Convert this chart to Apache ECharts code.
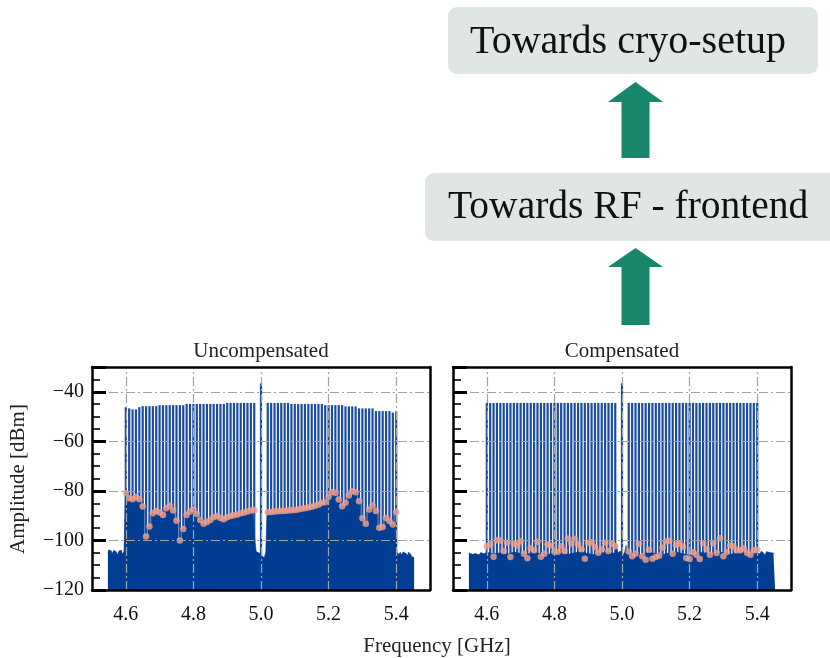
<!DOCTYPE html>
<html>
<head>
<meta charset="utf-8">
<script src="https://cdn.jsdelivr.net/npm/echarts@6/dist/echarts.min.js"></script>
<style>
html, body { margin: 0; padding: 0; background: #fff; }
#chart { width: 830px; height: 658px; }
</style>
</head>
<body>
<div id="chart"></div>
<script>
// tick positions
var xTicks = [4.6, 4.8, 5.0, 5.2, 5.4];
var yTicks = [-40, -60, -80, -100];

// comb tones (GHz)
var toneFreqsLow = [4.60, 4.61, 4.62, 4.63, 4.64, 4.65, 4.66, 4.67, 4.68, 4.69,
    4.70, 4.71, 4.72, 4.73, 4.74, 4.75, 4.76, 4.77, 4.78, 4.79,
    4.80, 4.81, 4.82, 4.83, 4.84, 4.85, 4.86, 4.87, 4.88, 4.89,
    4.90, 4.91, 4.92, 4.93, 4.94, 4.95, 4.96, 4.97, 4.98];
var toneFreqsHigh = [5.02, 5.03, 5.04, 5.05, 5.06, 5.07, 5.08, 5.09, 5.10, 5.11,
    5.12, 5.13, 5.14, 5.15, 5.16, 5.17, 5.18, 5.19, 5.20, 5.21,
    5.22, 5.23, 5.24, 5.25, 5.26, 5.27, 5.28, 5.29, 5.30, 5.31,
    5.32, 5.33, 5.34, 5.35, 5.36, 5.37, 5.38, 5.39, 5.40];
var loFreq = 5.0;
var loLevel = -36.6;

// tone amplitudes (dBm)
var toneUncompLow = [-46.2, -46.7, -47.1, -47.1, -46.2, -45.8, -45.8, -45.8, -45.8, -45.8,
    -45.4, -45.4, -45.4, -45.4, -45.4, -45.4, -45.4, -45.4, -44.9, -44.9,
    -44.9, -44.9, -44.9, -44.9, -44.9, -44.9, -44.9, -44.9, -44.9, -44.9,
    -44.5, -44.5, -44.5, -44.5, -44.5, -44.5, -44.5, -44.5, -44.5];
var toneUncompHigh = [-44.5, -44.5, -44.5, -44.5, -44.5, -44.5, -44.5, -44.9, -44.9, -44.9,
    -44.9, -44.9, -44.9, -44.9, -44.9, -44.9, -44.9, -45.4, -45.4, -45.4,
    -45.4, -45.4, -45.4, -45.9, -45.9, -45.9, -45.9, -46.7, -46.7, -46.7,
    -46.7, -46.7, -47.8, -47.8, -47.8, -47.8, -47.8, -48.4, -47.9];
var toneCompLow = [-44.5, -44.5, -44.5, -44.5, -44.5, -44.5, -44.5, -44.5, -44.5, -44.5,
    -44.5, -44.5, -44.5, -44.5, -44.5, -44.5, -44.5, -44.5, -44.5, -44.5,
    -44.5, -44.5, -44.5, -44.5, -44.5, -44.5, -44.5, -44.5, -44.5, -44.5,
    -44.5, -44.5, -44.5, -44.5, -44.5, -44.5, -44.5, -44.5, -44.5];
var toneCompHigh = [-44.5, -44.5, -44.5, -44.5, -44.5, -44.5, -44.5, -44.5, -44.5, -44.5,
    -44.5, -44.5, -44.5, -44.5, -44.5, -44.5, -44.5, -44.5, -44.5, -44.5,
    -44.5, -44.5, -44.5, -44.5, -44.5, -44.5, -44.5, -44.5, -44.5, -44.5,
    -44.5, -44.5, -44.5, -44.5, -44.5, -44.5, -44.5, -44.5, -44.5];

// image spurs (dBm), one per tone slot
var spurUncompLow = [-80.9, -83.0, -83.4, -82.6, -83.4, -86.3, -98.4, -94.4, -89.0, -88.1,
    -88.7, -89.7, -87.0, -86.0, -87.9, -92.1, -100.0, -95.4, -89.7, -88.3,
    -87.4, -89.3, -91.7, -93.3, -92.6, -91.7, -90.6, -90.1, -90.9, -91.4,
    -90.6, -90.1, -89.8, -89.5, -89.0, -88.7, -88.3, -87.9, -87.7];
var spurUncompHigh = [-88.6, -88.5, -88.3, -88.2, -88.1, -88.1, -87.9, -87.8, -87.7, -87.5,
    -87.2, -87.0, -86.7, -86.4, -86.0, -85.6, -84.8, -84.6, -82.4, -80.5,
    -80.8, -83.5, -86.2, -84.8, -81.9, -80.1, -80.5, -84.2, -91.0, -93.3,
    -87.5, -85.9, -88.1, -94.9, -94.6, -90.9, -92.2, -93.6, -88.6];
var spurCompLow = [-102.3, -101.6, -106.6, -99.9, -100.0, -104.3, -100.9, -106.7, -101.2, -102.0,
    -100.3, -105.4, -107.2, -103.2, -104.0, -100.5, -106.6, -105.4, -101.6, -102.0,
    -104.6, -104.6, -102.3, -104.3, -99.2, -101.2, -99.3, -101.6, -103.6, -107.4,
    -100.9, -100.7, -102.6, -105.0, -103.6, -100.9, -104.3, -101.2, -102.3];
var spurCompHigh = [-104.5, -106.4, -105.4, -101.3, -106.4, -107.8, -103.8, -107.4, -106.7, -106.2,
    -102.8, -100.4, -100.1, -105.4, -101.7, -101.1, -102.4, -107.1, -107.5, -104.8,
    -105.8, -107.5, -101.1, -103.5, -105.8, -101.1, -105.1, -99.1, -106.4, -104.7,
    -102.0, -102.4, -104.0, -104.0, -103.1, -105.1, -105.8, -104.0, -103.8];

// noise floor outside the comb and around the LO
var edgeFreqsLow = [4.547, 4.552, 4.557, 4.562, 4.567, 4.572, 4.577, 4.582, 4.587, 4.592, 4.597];
var edgeFreqsHigh = [5.403, 5.408, 5.413, 5.418, 5.423, 5.428, 5.433, 5.438, 5.443, 5.448, 5.453];
var centreFreqs = [4.984, 4.988, 4.992, 4.996, 5.000, 5.004, 5.008, 5.012, 5.016];
var floorUncompEdgeLow = [-104.8, -103.8, -104.2, -105.3, -104.0, -104.6, -105.8, -104.3, -103.9, -105.5, -104.4];
var floorUncompEdgeHigh = [-104.5, -105.6, -104.8, -105.9, -104.6, -105.2, -106.0, -104.7, -105.5, -106.4, -107.0];
var floorUncompCentre = [-100.4, -104.5, -105.1, -104.6, -105.0, -106.4, -106.8, -106.2, -104.8];
var floorCompEdgeLow = [-105.0, -104.4, -105.6, -104.8, -105.3, -104.5, -105.8, -104.9, -104.6, -105.4, -104.8];
var floorCompEdgeHigh = [-104.6, -105.4, -104.3, -105.0, -105.8, -104.5, -105.2, -104.9, -105.7, -105.1, -105.6];
var floorCompCentre = [-101.6, -104.9, -105.6, -104.3, -105.0, -105.8, -104.6, -101.9, -105.3];
// compensated floor inside the comb, every second tone slot
var floorCompLow = [-104.8, -105.4, -105.0, -105.6, -104.7, -105.2, -105.5, -104.9, -105.3, -105.7,
    -104.8, -105.1, -105.6, -105.0, -104.6, -105.3, -105.8, -105.0, -104.7, -105.2];
var floorCompHigh = [-105.6, -105.0, -105.9, -104.8, -105.3, -105.7, -105.1, -104.6, -105.4, -105.9,
    -105.0, -104.9, -105.5, -105.2, -104.7, -105.6, -105.1, -104.8, -105.3, -105.0];

var FONT = '"Liberation Serif", "Times New Roman", serif';
var fillColor = '#023d94';
var toneColor = '#1a4c9d';
var spurColor = '#f3a08b';

function pairs(xs, ys) {
    return xs.map(function (x, i) { return [x, ys[i]]; });
}
function everyOther(xs) {
    return xs.filter(function (x, i) { return i % 2 === 0; });
}

var panels = [
    {
        title: 'Uncompensated',
        tones: pairs(toneFreqsLow, toneUncompLow).concat(pairs(toneFreqsHigh, toneUncompHigh)),
        spurs: pairs(toneFreqsLow, spurUncompLow).concat(pairs(toneFreqsHigh, spurUncompHigh)),
        floor: pairs(edgeFreqsLow, floorUncompEdgeLow)
            .concat(pairs(toneFreqsLow, spurUncompLow))
            .concat(pairs(centreFreqs, floorUncompCentre))
            .concat(pairs(toneFreqsHigh, spurUncompHigh))
            .concat(pairs(edgeFreqsHigh, floorUncompEdgeHigh)),
        step: 'middle',
        left: 92,
        labels: true
    },
    {
        title: 'Compensated',
        tones: pairs(toneFreqsLow, toneCompLow).concat(pairs(toneFreqsHigh, toneCompHigh)),
        spurs: pairs(toneFreqsLow, spurCompLow).concat(pairs(toneFreqsHigh, spurCompHigh)),
        floor: pairs(edgeFreqsLow, floorCompEdgeLow)
            .concat(pairs(everyOther(toneFreqsLow), floorCompLow))
            .concat(pairs(centreFreqs, floorCompCentre))
            .concat(pairs(everyOther(toneFreqsHigh), floorCompHigh))
            .concat(pairs(edgeFreqsHigh, floorCompEdgeHigh)),
        step: false,
        left: 453,
        labels: false
    }
];

var chart = echarts.init(document.getElementById('chart'));
var grids = [], xAxes = [], yAxes = [], series = [], graphics = [];
var boxLine = { show: true, onZero: false, lineStyle: { color: '#000', width: 2.5 } };

panels.forEach(function (p, i) {
    grids.push({ left: p.left, top: 367, width: 338, height: 223 });
    xAxes.push({
        gridIndex: i, type: 'value', position: 'bottom', min: 4.5, max: 5.5, interval: 0.1, z: 10,
        axisLine: boxLine, axisTick: { show: false }, splitLine: { show: false },
        axisLabel: {
            margin: 15, color: '#111', fontFamily: FONT, fontSize: 20,
            formatter: function (v) {
                var t = Math.round(v * 10);
                return (t % 2 === 0 && t >= 46 && t <= 54) ? (t / 10).toFixed(1) : '';
            }
        }
    });
    xAxes.push({
        gridIndex: i, type: 'value', position: 'top', min: 4.5, max: 5.5, z: 10,
        axisLine: boxLine, axisTick: { show: false }, axisLabel: { show: false }, splitLine: { show: false }
    });
    // minor ticks + labels
    yAxes.push({
        gridIndex: i, type: 'value', position: 'left', min: -120, max: -30, interval: 5, z: 10,
        axisLine: boxLine, splitLine: { show: false },
        axisTick: { inside: true, length: 8, lineStyle: { color: '#000', width: 1.6 } },
        axisLabel: {
            show: p.labels, margin: 8, color: '#111', fontFamily: FONT, fontSize: 20, showMaxLabel: false,
            formatter: function (v) { return v % 20 === 0 ? '\u2212' + Math.abs(v) : ''; }
        }
    });
    // major ticks
    yAxes.push({
        gridIndex: i, type: 'value', position: 'left', min: -120, max: -30, interval: 20, z: 11,
        axisLine: { show: false }, splitLine: { show: false }, axisLabel: { show: false },
        axisTick: { inside: true, length: 14, lineStyle: { color: '#000', width: 3 } }
    });
    yAxes.push({
        gridIndex: i, type: 'value', position: 'right', min: -120, max: -30, z: 10,
        axisLine: boxLine, axisTick: { show: false }, axisLabel: { show: false }, splitLine: { show: false }
    });

    var xi = i * 2, yi = i * 3;
    series.push({
        type: 'line', xAxisIndex: xi, yAxisIndex: yi, z: 1, silent: true,
        data: [[4.5, -120]], showSymbol: false, lineStyle: { opacity: 0 },
        markLine: {
            silent: true, symbol: ['none', 'none'], label: { show: false }, animation: false,
            lineStyle: { color: '#a2a2a2', width: 1.2, type: [9, 3, 2, 3] },
            data: xTicks.map(function (v) { return { xAxis: v }; })
                .concat(yTicks.map(function (v) { return { yAxis: v }; }))
        }
    });
    series.push({
        type: 'custom', xAxisIndex: xi, yAxisIndex: yi, z: 2, silent: true,
        data: p.tones.concat([[loFreq, loLevel, 2.8]]),
        encode: { x: 0, y: 1 },
        renderItem: function (params, api) {
            var top = api.coord([api.value(0), api.value(1)]);
            var base = api.coord([api.value(0), -120]);
            var w = api.value(2);
            return {
                type: 'line',
                shape: { x1: top[0], y1: top[1], x2: base[0], y2: base[1] },
                style: { stroke: w ? fillColor : toneColor, lineWidth: w || 2.2 }
            };
        }
    });
    series.push({
        type: 'line', xAxisIndex: xi, yAxisIndex: yi, z: 3, silent: true,
        data: p.floor, step: p.step, showSymbol: false,
        lineStyle: { color: fillColor, width: 0.5 },
        areaStyle: { color: fillColor, opacity: 1, origin: 'start' }
    });
    series.push({
        type: 'scatter', xAxisIndex: xi, yAxisIndex: yi, z: 4, silent: true,
        data: p.spurs, symbolSize: 6.5, itemStyle: { color: spurColor }
    });

    graphics.push({
        type: 'text', x: p.left + 169, y: 351, silent: true,
        style: { text: p.title, font: '21px ' + FONT, fill: '#222',
            align: 'center', verticalAlign: 'middle', textAlign: 'center', textVerticalAlign: 'middle' }
    });
});

// axis names
graphics.push({
    type: 'text', x: 437, y: 646, silent: true,
    style: { text: 'Frequency [GHz]', font: '21px ' + FONT, fill: '#222',
        align: 'center', verticalAlign: 'middle', textAlign: 'center', textVerticalAlign: 'middle' }
});
graphics.push({
    type: 'text', x: 18, y: 479, rotation: Math.PI / 2, silent: true,
    style: { text: 'Amplitude [dBm]', font: '21px ' + FONT, fill: '#222',
        align: 'center', verticalAlign: 'middle', textAlign: 'center', textVerticalAlign: 'middle' }
});

// signal-chain boxes and arrows
var boxFill = '#dfe6e3';
var arrowFill = '#17866a';
graphics.push({ type: 'rect', silent: true, shape: { x: 448, y: 7, width: 370, height: 67, r: 9 }, style: { fill: boxFill } });
graphics.push({ type: 'rect', silent: true, shape: { x: 425, y: 173, width: 420, height: 68, r: 9 }, style: { fill: boxFill } });
graphics.push({
    type: 'text', x: 470, y: 42, silent: true,
    style: { text: 'Towards cryo-setup', font: '40px ' + FONT, fill: '#111',
        align: 'left', verticalAlign: 'middle', textAlign: 'left', textVerticalAlign: 'middle' }
});
graphics.push({
    type: 'text', x: 448, y: 208, silent: true,
    style: { text: 'Towards RF - frontend', font: '39.5px ' + FONT, fill: '#111',
        align: 'left', verticalAlign: 'middle', textAlign: 'left', textVerticalAlign: 'middle' }
});
graphics.push({
    type: 'polygon', silent: true, style: { fill: arrowFill },
    shape: { points: [[635.5, 82], [663, 102], [649.5, 102], [649.5, 158], [621.5, 158], [621.5, 102], [608, 102]] }
});
graphics.push({
    type: 'polygon', silent: true, style: { fill: arrowFill },
    shape: { points: [[635.5, 248], [663, 267], [649.5, 267], [649.5, 325], [621.5, 325], [621.5, 267], [608, 267]] }
});

chart.setOption({
    animation: false,
    backgroundColor: '#fff',
    grid: grids,
    xAxis: xAxes,
    yAxis: yAxes,
    series: series,
    graphic: graphics
});
</script>
</body>
</html>
